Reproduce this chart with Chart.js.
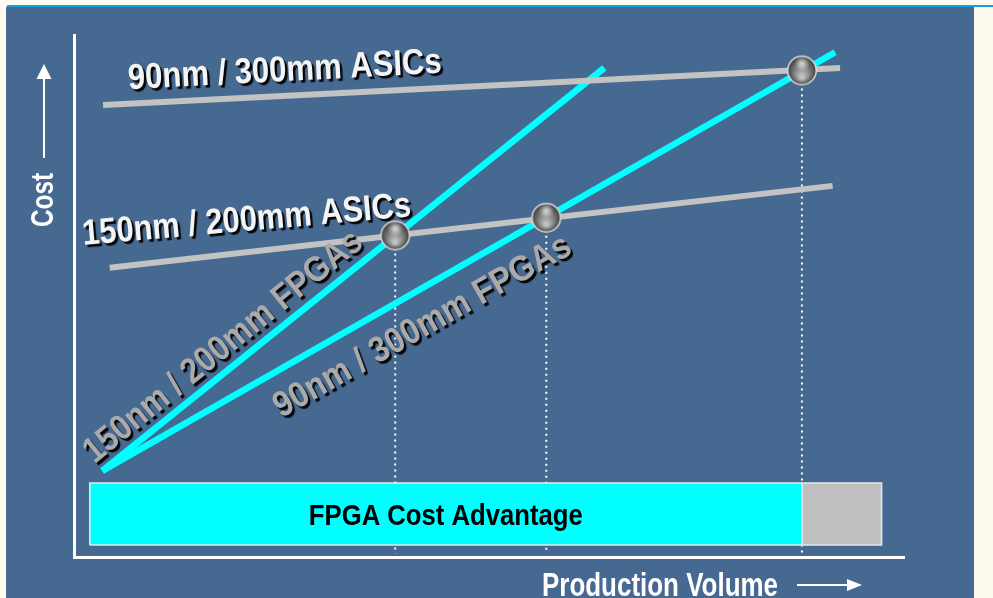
<!DOCTYPE html>
<html>
<head>
<meta charset="utf-8">
<script src="https://cdn.jsdelivr.net/npm/chart.js@4.4.0/dist/chart.umd.min.js"></script>
<style>
  html, body { margin: 0; padding: 0; background: #fffaf0; }
  body { width: 993px; height: 598px; overflow: hidden; position: relative; }
  #topLine { position: absolute; left: 7px; right: 0; top: 5px; height: 2px; background: #0aa2e6; }
  #panel { position: absolute; left: 6px; top: 7px; width: 968px; height: 591px; background: #466991; }
  #wrap { position: absolute; left: 0; top: 0; }
</style>
</head>
<body>
<div id="topLine"></div>
<div id="panel"></div>
<div id="wrap"><canvas id="costChart" width="993" height="598"></canvas></div>
<script>
// x = production volume, y = cost (relative units, 0-100)
const asic90 = [[3.5, 86.6], [92.3, 93.7]];
const asic150 = [[4.3, 55.4], [91.4, 71.1]];
const fpga150 = [[3.4, 16.5], [63.9, 93.7]];
const fpga90 = [[3.4, 16.5], [91.7, 96.7]];

const crossVolume = [38.7, 56.9, 87.7];
const crossCost = [61.6, 65.0, 93.2];

// FPGA cost advantage band
const advantageVolume = [1.9, 87.7, 97.3];
const advantageCost = [2.3, 14.2];

const lineLabels = ['90nm / 300mm ASICs', '150nm / 200mm ASICs', '150nm / 200mm FPGAs', '90nm / 300mm FPGAs'];
const bandLabel = 'FPGA Cost Advantage';
const xTitle = 'Production Volume';
const yTitle = 'Cost';

const FONT = '"Liberation Sans", Arial, Helvetica, sans-serif';
const toPts = arr => arr.map(p => ({x: p[0], y: p[1]}));

const rect = (x0, x1, y0, y1) => [
    {x: x0, y: y0}, {x: x1, y: y0}, {x: x1, y: y1}, {x: x0, y: y1}, {x: x0, y: y0}
];

// shaded sphere used as the crossover marker
function makeBall(r) {
    const c = document.createElement('canvas');
    const s = r * 2 + 4;
    c.width = c.height = s;
    const g = c.getContext('2d');
    const m = s / 2;
    g.beginPath(); g.arc(m, m, r + 1, 0, Math.PI * 2); g.fillStyle = '#dcdcdc'; g.fill();
    const grad = g.createRadialGradient(m, m + r * 0.5, r * 0.1, m, m, r);
    grad.addColorStop(0, '#c4c4c4');
    grad.addColorStop(0.55, '#7c7c7c');
    grad.addColorStop(1, '#3e3e3e');
    g.beginPath(); g.arc(m, m, r - 0.5, 0, Math.PI * 2); g.fillStyle = grad; g.fill();
    const hl = g.createRadialGradient(m, m - r * 0.5, 0, m, m - r * 0.5, r * 0.55);
    hl.addColorStop(0, 'rgba(255,255,255,0.75)');
    hl.addColorStop(1, 'rgba(255,255,255,0)');
    g.beginPath(); g.arc(m, m, r - 0.5, 0, Math.PI * 2); g.fillStyle = hl; g.fill();
    return c;
}
const ball = makeBall(14);

const dotted = crossVolume.map((v, i) => ({
    data: [{x: v, y: crossCost[i]}, {x: v, y: 0.6}],
    borderColor: '#ffffff',
    borderWidth: 2,
    borderDash: [2, 4],
    pointRadius: 0,
    order: 6
}));

function drawText(ctx, text, cx, cy, angle, size, width, color, shadow) {
    ctx.save();
    ctx.translate(cx, cy);
    ctx.rotate(angle * Math.PI / 180);
    ctx.font = `bold ${size}px ${FONT}`;
    const w = ctx.measureText(text).width;
    ctx.scale(width / w, 1);
    ctx.textAlign = 'center';
    ctx.textBaseline = 'middle';
    if (shadow) {
        ctx.shadowColor = 'rgba(0,0,0,0.95)';
        ctx.shadowOffsetX = 2.5;
        ctx.shadowOffsetY = 2.5;
        ctx.shadowBlur = 1;
    }
    ctx.fillStyle = color;
    ctx.fillText(text, 0, 0);
    ctx.restore();
}

const labelsPlugin = {
    id: 'labels',
    afterDatasetsDraw(chart) {
        const {ctx, chartArea, scales: {x, y}} = chart;
        const px = v => x.getPixelForValue(v);
        const py = v => y.getPixelForValue(v);

        drawText(ctx, lineLabels[0], px(25.4), py(93.1), -3, 36, 314, '#f4f4f4', true);
        drawText(ctx, lineLabels[1], px(20.8), py(64.4), -5, 36, 330, '#f4f4f4', true);
        drawText(ctx, lineLabels[2], px(18.0), py(40.2), -39, 36, 348, '#aaaaaa', true);
        drawText(ctx, lineLabels[3], px(42.0), py(44.1), -29.5, 36, 336, '#aaaaaa', true);

        const bandMid = (advantageVolume[0] + advantageVolume[1]) / 2;
        const bandY = (advantageCost[0] + advantageCost[1]) / 2;
        drawText(ctx, bandLabel, px(bandMid), py(bandY) + 3, 0, 30, 274, '#000000', false);

        // axis titles with arrows
        ctx.save();
        ctx.strokeStyle = '#ffffff';
        ctx.fillStyle = '#ffffff';
        ctx.lineWidth = 2;
        const ax = chartArea.left - 30;
        ctx.beginPath(); ctx.moveTo(ax, 158); ctx.lineTo(ax, 76); ctx.stroke();
        ctx.beginPath(); ctx.moveTo(ax, 64); ctx.lineTo(ax - 7.5, 79); ctx.lineTo(ax + 7.5, 79); ctx.closePath(); ctx.fill();
        const ay = 585;
        ctx.beginPath(); ctx.moveTo(797, ay); ctx.lineTo(850, ay); ctx.stroke();
        ctx.beginPath(); ctx.moveTo(862, ay); ctx.lineTo(847, ay - 6); ctx.lineTo(847, ay + 6); ctx.closePath(); ctx.fill();
        ctx.restore();

        drawText(ctx, yTitle, ax, 200, -90, 32, 54, '#ffffff', false);
        drawText(ctx, xTitle, 660, 587, 0, 33, 236, '#ffffff', false);
    }
};

new Chart(document.getElementById('costChart'), {
    type: 'line',
    data: {
        datasets: [
            {
                label: 'Crossover',
                data: crossVolume.map((v, i) => ({x: v, y: crossCost[i]})),
                showLine: false,
                pointStyle: ball,
                pointRadius: 14,
                order: 0
            },
            {label: lineLabels[0], data: toPts(asic90), borderColor: '#c3c3c3', borderWidth: 6, pointRadius: 0, order: 1},
            {label: lineLabels[1], data: toPts(asic150), borderColor: '#c3c3c3', borderWidth: 6, pointRadius: 0, order: 1},
            {label: lineLabels[2], data: toPts(fpga150), borderColor: '#00ffff', borderWidth: 6.5, pointRadius: 0, order: 2},
            {label: lineLabels[3], data: toPts(fpga90), borderColor: '#00ffff', borderWidth: 6.5, pointRadius: 0, order: 2},
            {
                label: bandLabel,
                data: rect(advantageVolume[0], advantageVolume[1], advantageCost[0], advantageCost[1]),
                borderColor: '#e8e8e8', borderWidth: 1.5, backgroundColor: '#00ffff',
                fill: 'shape', pointRadius: 0, order: 4
            },
            {
                label: 'ASIC range',
                data: rect(advantageVolume[1], advantageVolume[2], advantageCost[0], advantageCost[1]),
                borderColor: '#e8e8e8', borderWidth: 1.5, backgroundColor: '#c0c0c0',
                fill: 'shape', pointRadius: 0, order: 4
            },
            ...dotted
        ]
    },
    options: {
        responsive: false,
        animation: false,
        layout: {padding: {left: 74, right: 89, top: 35, bottom: 41}},
        plugins: {legend: {display: false}, tooltip: {enabled: false}},
        scales: {
            x: {
                type: 'linear', min: 0, max: 100,
                grid: {display: false},
                ticks: {display: false},
                border: {display: true, color: '#ffffff', width: 3},
                afterFit: s => { s.height = 0; }
            },
            y: {
                type: 'linear', min: 0, max: 100,
                grid: {display: false},
                ticks: {display: false},
                border: {display: true, color: '#ffffff', width: 3},
                afterFit: s => { s.width = 0; }
            }
        }
    },
    plugins: [labelsPlugin]
});
</script>
</body>
</html>
